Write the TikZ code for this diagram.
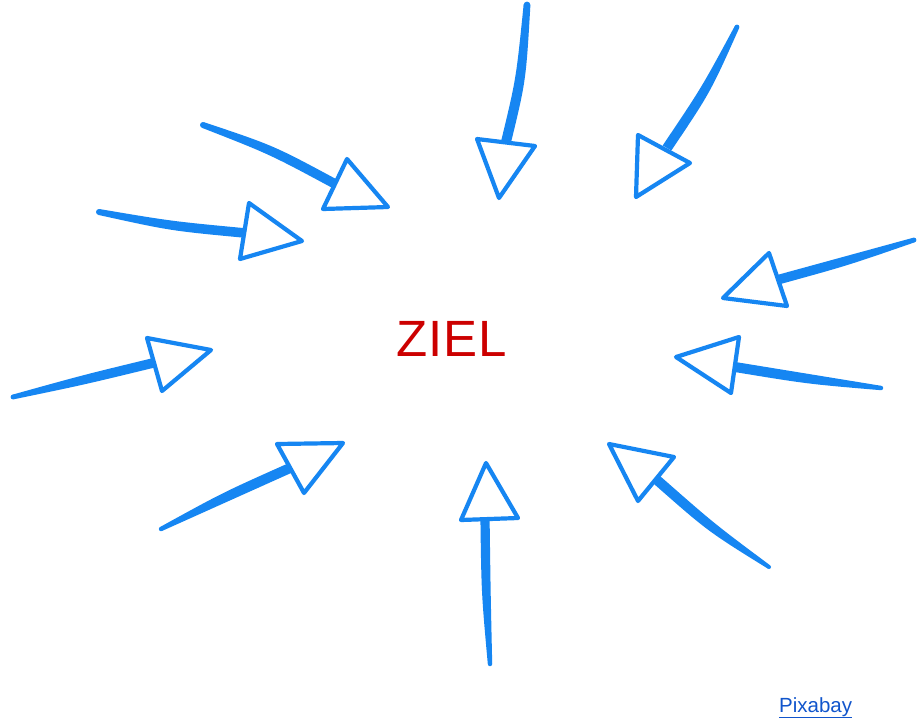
\documentclass[tikz,border=0pt]{standalone}
\usepackage{fontspec}
\setmainfont{Liberation Sans}
\usetikzlibrary{calc}
\definecolor{ablue}{RGB}{22,134,242}
\definecolor{zielred}{RGB}{204,0,0}
\definecolor{linkblue}{RGB}{17,85,204}
% tapered brush shaft: #1 tail, #2 control, #3 base, #4 half width at tail, #5 half width at base
\newcommand{\brushstroke}[5]{%
  \fill[ablue] ($(#1)!#4!90:(#3)$)
    .. controls ($(#2)+($(#1)!#5!90:(#3)$)-(#1)$) .. ($(#3)!#5!-90:(#1)$)
    -- ($(#3)!#5!90:(#1)$)
    .. controls ($(#2)+($(#1)!#5!-90:(#3)$)-(#1)$) .. ($(#1)!#4!-90:(#3)$)
    -- cycle;
  \fill[ablue] (#1) circle[radius=#4];}
\begin{document}
\begin{tikzpicture}[x=1pt,y=-1pt,
  tri/.style={draw=ablue, fill=white, line width=4.2pt, line join=round},
  ziel/.style={text=zielred, font=\fontsize{51}{51}\selectfont\addfontfeature{LetterSpace=2}, inner sep=0pt},
  link/.style={text=linkblue, font=\fontsize{20.5}{22}\selectfont, inner sep=0pt}]
\fill[white] (0,0) rectangle (917,718);
\useasboundingbox (0,0) rectangle (917,718);

% coordinates: tail, control, base of each shaft
\coordinate (t1) at (527,5);   \coordinate (c1) at (521,80);    \coordinate (b1) at (506,142);
\coordinate (t2) at (737,27);  \coordinate (c2) at (706,90);    \coordinate (b2) at (667,148);
\coordinate (t3) at (914,240); \coordinate (c3) at (846,261);   \coordinate (b3) at (777,280);
\coordinate (t4) at (881,388); \coordinate (c4) at (808,379);   \coordinate (b4) at (735,367);
\coordinate (t5) at (769,567); \coordinate (c5) at (711,527.5); \coordinate (b5) at (657,480);
\coordinate (t6) at (490,664); \coordinate (c6) at (486,593);   \coordinate (b6) at (485,518);
\coordinate (t7) at (161,529); \coordinate (c7) at (225,497);   \coordinate (b7) at (290,468);
\coordinate (t8) at (13,397);  \coordinate (c8) at (83,380);    \coordinate (b8) at (153,363);
\coordinate (t9) at (99,212);  \coordinate (c9) at (171,226);   \coordinate (b9) at (245,233);
\coordinate (t10) at (203,125);\coordinate (c10) at (272,150);  \coordinate (b10) at (337,185);

\brushstroke{t1}{c1}{b1}{3.4pt}{5pt}
\brushstroke{t2}{c2}{b2}{2.4pt}{5pt}
\brushstroke{t3}{c3}{b3}{2.4pt}{4.8pt}
\brushstroke{t4}{c4}{b4}{2.2pt}{5pt}
\brushstroke{t5}{c5}{b5}{2pt}{5pt}
\brushstroke{t6}{c6}{b6}{2.2pt}{4.6pt}
\brushstroke{t7}{c7}{b7}{2.2pt}{5pt}
\brushstroke{t8}{c8}{b8}{2.4pt}{4.8pt}
\brushstroke{t9}{c9}{b9}{3pt}{4.8pt}
\brushstroke{t10}{c10}{b10}{3pt}{4.8pt}

% arrow heads
\draw[tri] (477,139) -- (535,146) -- (499,198) -- cycle;
\draw[tri] (638,135) -- (690,163) -- (636,197) -- cycle;
\draw[tri] (769,253) -- (723,298) -- (787,306) -- cycle;
\draw[tri] (739,337) -- (676,357) -- (731,393) -- cycle;
\draw[tri] (609,444) -- (674,457) -- (638,501) -- cycle;
\draw[tri] (486,463) -- (461,520) -- (518,518) -- cycle;
\draw[tri] (277,444) -- (343,443) -- (304,493) -- cycle;
\draw[tri] (147,338) -- (211,350) -- (162,391) -- cycle;
\draw[tri] (249,203) -- (302,241) -- (240,259) -- cycle;
\draw[tri] (347,159) -- (388,207) -- (323,209) -- cycle;

\node[ziel, anchor=base] (ziel) at (452,356) {ZIEL};
\node[link, anchor=base west] (pixabay) at (779,712) {\underline{Pixabay}};
\end{tikzpicture}
\end{document}
